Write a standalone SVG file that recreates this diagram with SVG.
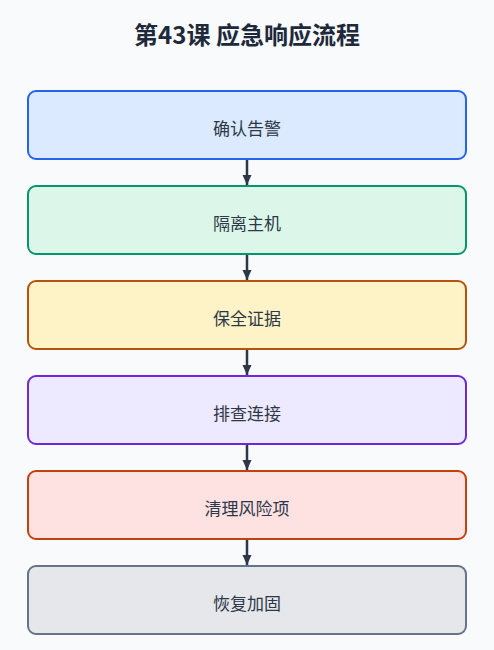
<svg xmlns="http://www.w3.org/2000/svg" width="494" height="650" viewBox="0 0 494 650">
<defs>
<style>
.title{font-family:"Noto Sans CJK SC","Noto Sans",sans-serif;font-size:24px;font-weight:700;fill:#1e293b;text-anchor:middle}
.lbl{font-family:"Noto Sans CJK SC","Noto Sans",sans-serif;font-size:17px;fill:#2d3748;text-anchor:middle}
.box{stroke-width:2}
.conn{stroke:#2d3748;stroke-width:2.5;fill:none;marker-end:url(#ah)}
</style>
<marker id="ah" markerWidth="11" markerHeight="11" refX="10" refY="5" orient="auto" markerUnits="userSpaceOnUse">
<path d="M0,0.5 L10,5 L0,9.5 Z" fill="#2d3748"/>
</marker>
</defs>
<rect width="494" height="650" fill="#f8fafc"/>
<text class="title" x="247" y="44">第43课 应急响应流程</text>
<g id="connectors">
<line class="conn" x1="247" y1="159" x2="247" y2="185"/>
<line class="conn" x1="247" y1="254" x2="247" y2="280"/>
<line class="conn" x1="247" y1="349" x2="247" y2="375"/>
<line class="conn" x1="247" y1="444" x2="247" y2="470"/>
<line class="conn" x1="247" y1="539" x2="247" y2="565"/>
</g>
<g id="n1"><rect class="box" x="28" y="91" width="438" height="68" rx="8" fill="#dbeafe" stroke="#2563eb"/><text class="lbl" x="247" y="135">确认告警</text></g>
<g id="n2"><rect class="box" x="28" y="186" width="438" height="68" rx="8" fill="#dcf7ea" stroke="#059669"/><text class="lbl" x="247" y="230">隔离主机</text></g>
<g id="n3"><rect class="box" x="28" y="281" width="438" height="68" rx="8" fill="#fef3c7" stroke="#b45309"/><text class="lbl" x="247" y="325">保全证据</text></g>
<g id="n4"><rect class="box" x="28" y="376" width="438" height="68" rx="8" fill="#ede9fe" stroke="#6d28d9"/><text class="lbl" x="247" y="420">排查连接</text></g>
<g id="n5"><rect class="box" x="28" y="471" width="438" height="68" rx="8" fill="#fee2e2" stroke="#c2410c"/><text class="lbl" x="247" y="515">清理风险项</text></g>
<g id="n6"><rect class="box" x="28" y="566" width="438" height="68" rx="8" fill="#e5e7eb" stroke="#64748b"/><text class="lbl" x="247" y="610">恢复加固</text></g>
</svg>
